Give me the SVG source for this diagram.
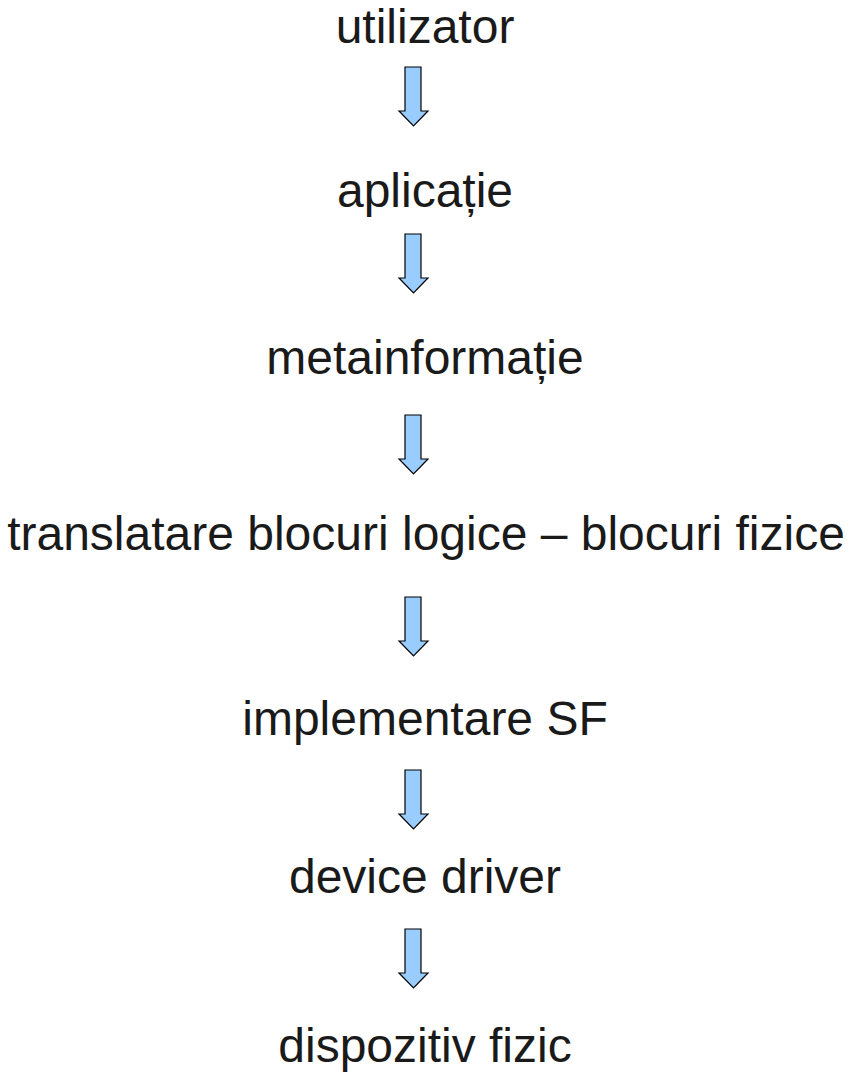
<svg xmlns="http://www.w3.org/2000/svg" width="856" height="1079" viewBox="0 0 856 1079">
<style>
.t{font-family:"Liberation Sans",Arial,sans-serif;font-size:48px;fill:#1a1a1a;text-anchor:middle}
.a{fill:#99ccff;stroke:#000;stroke-width:1.2;stroke-linejoin:miter}
</style>
<defs>
<path id="arr" d="M405,0 H421 V44 H428 L413.5,59 L399,44 H405 Z"/>
</defs>
<rect width="856" height="1079" fill="#fff"/>
<g id="n1"><text class="t" x="425" y="43">utilizator</text></g>
<g id="n2"><text class="t" x="425" y="207">aplicație</text></g>
<g id="n3"><text class="t" x="425" y="374">metainformație</text></g>
<g id="n4"><text class="t" x="426" y="550">translatare blocuri logice – blocuri fizice</text></g>
<g id="n5"><text class="t" x="425" y="735">implementare SF</text></g>
<g id="n6"><text class="t" x="425" y="893">device driver</text></g>
<g id="n7"><text class="t" x="425" y="1062">dispozitiv fizic</text></g>
<g id="connectors">
<use href="#arr" class="a" y="67"/>
<use href="#arr" class="a" y="234"/>
<use href="#arr" class="a" y="415"/>
<use href="#arr" class="a" y="597"/>
<use href="#arr" class="a" y="770"/>
<use href="#arr" class="a" y="929"/>
</g>
</svg>
